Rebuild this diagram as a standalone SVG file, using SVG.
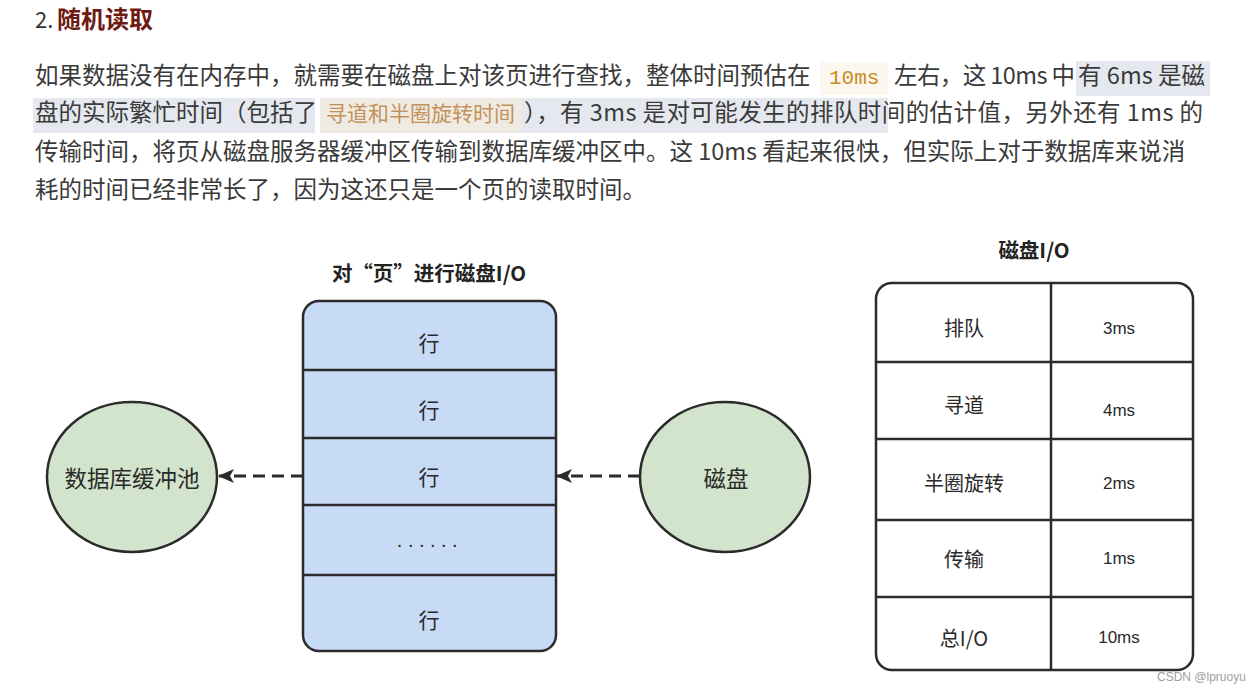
<svg xmlns="http://www.w3.org/2000/svg" width="1259" height="692" viewBox="0 0 1259 692">
<style>
.p{font-family:"Noto Sans CJK SC","Noto Sans",sans-serif;font-size:23.5px;fill:#3a3a3a}
.hl{fill:#e5e8ee}
.cn{font-family:"Noto Sans CJK SC","Noto Sans",sans-serif;fill:#2a2a2a}
.lbl{font-size:21px;text-anchor:middle;dominant-baseline:central}
.num{font-family:"Liberation Sans",Arial,sans-serif;font-size:17px;fill:#2a2a2a;text-anchor:middle;dominant-baseline:central}
.ttl{font-family:"Noto Sans CJK SC","Noto Sans",sans-serif;font-size:20.5px;font-weight:bold;fill:#222;text-anchor:middle}
.edge{stroke:#2b2b2b;stroke-width:3;stroke-dasharray:12 7;fill:none}
.ln{stroke:#2b2b2b;stroke-width:2.5}
</style>
<defs>
<marker id="ah" viewBox="0 0 16 14" refX="15" refY="7" markerWidth="16" markerHeight="14" markerUnits="userSpaceOnUse" orient="auto">
<path d="M0,0 L16,7 L0,14 L4,7 Z" fill="#2b2b2b"/>
</marker>
</defs>
<rect width="1259" height="692" fill="#ffffff"/>

<g id="heading">
<text x="35" y="28" font-family="Noto Sans CJK SC,sans-serif" font-size="22" fill="#333">2.</text>
<text x="57" y="28" font-family="Noto Sans CJK SC,sans-serif" font-size="24" font-weight="bold" fill="#6e1a12">随机读取</text>
</g>

<g id="paragraph">
<rect x="820" y="62" width="68" height="33" fill="#fbf7ee"/>
<rect class="hl" x="1076" y="61" width="134" height="35"/>
<rect class="hl" x="33" y="98" width="282" height="35"/>
<rect x="320" y="98" width="202" height="35" fill="#efebe3"/>
<rect class="hl" x="522" y="98" width="366" height="35"/>
<text class="p" x="35" y="84">如果数据没有在内存中，就需要在磁盘上对该页进行查找，整体时间预估在</text>
<text x="829" y="84" font-family="Liberation Mono,DejaVu Sans Mono,monospace" font-size="21" fill="#c98a1e">10ms</text>
<text class="p" x="894" y="84" textLength="181" lengthAdjust="spacing">左右，这 10ms 中</text>
<text class="p" x="1078" y="84" textLength="127" lengthAdjust="spacing">有 6ms 是磁</text>
<text class="p" x="35" y="121">盘的实际繁忙时间（包括了</text>
<text class="p" x="326" y="121" style="fill:#c4915a;font-size:21px">寻道和半圈旋转时间</text>
<text class="p" x="524" y="121" textLength="679" lengthAdjust="spacing">），有 3ms 是对可能发生的排队时间的估计值，另外还有 1ms 的</text>
<text class="p" x="35" y="160">传输时间，将页从磁盘服务器缓冲区传输到数据库缓冲区中。这 10ms 看起来很快，但实际上对于数据库来说消</text>
<text class="p" x="35" y="198">耗的时间已经非常长了，因为这还只是一个页的读取时间。</text>
</g>

<g id="connectors">
<line class="edge" x1="303" y1="476" x2="219" y2="476" marker-end="url(#ah)"/>
<line class="edge" x1="640" y1="476" x2="557" y2="476" marker-end="url(#ah)"/>
</g>

<g id="page">
<text class="ttl" x="429" y="281">对“页”进行磁盘I/O</text>
<rect x="303" y="301" width="253" height="350" rx="16" fill="#c7dbf6" stroke="#2b2b2b" stroke-width="2.5"/>
<line class="ln" x1="303" y1="370" x2="556" y2="370"/>
<line class="ln" x1="303" y1="438" x2="556" y2="438"/>
<line class="ln" x1="303" y1="505" x2="556" y2="505"/>
<line class="ln" x1="303" y1="575" x2="556" y2="575"/>
<text class="cn lbl" x="429" y="342">行</text>
<text class="cn lbl" x="429" y="409">行</text>
<text class="cn lbl" x="429" y="476">行</text>
<text x="430" y="547" font-family="Liberation Sans,Arial,sans-serif" font-size="20" fill="#2a2a2a" text-anchor="middle" letter-spacing="5.5">......</text>
<text class="cn lbl" x="429" y="619">行</text>
</g>

<g id="buffer-pool">
<ellipse cx="132" cy="477" rx="85" ry="75" fill="#d2e4cb" stroke="#2b2b2b" stroke-width="2.5"/>
<text class="cn lbl" x="132" y="477" style="font-size:22.5px">数据库缓冲池</text>
</g>

<g id="disk">
<ellipse cx="725" cy="477" rx="85" ry="75" fill="#d2e4cb" stroke="#2b2b2b" stroke-width="2.5"/>
<text class="cn lbl" x="726" y="477" style="font-size:22.5px">磁盘</text>
</g>

<g id="io-table">
<text class="ttl" x="1034" y="258">磁盘I/O</text>
<rect x="876" y="283" width="317" height="387" rx="16" fill="#ffffff" stroke="#2b2b2b" stroke-width="2.5"/>
<line class="ln" x1="1051" y1="283" x2="1051" y2="670"/>
<line class="ln" x1="876" y1="362" x2="1193" y2="362"/>
<line class="ln" x1="876" y1="439" x2="1193" y2="439"/>
<line class="ln" x1="876" y1="520" x2="1193" y2="520"/>
<line class="ln" x1="876" y1="597" x2="1193" y2="597"/>
<text class="cn lbl" x="964" y="327" style="font-size:20px">排队</text>
<text class="num" x="1119" y="328">3ms</text>
<text class="cn lbl" x="964" y="404" style="font-size:20px">寻道</text>
<text class="num" x="1119" y="410">4ms</text>
<text class="cn lbl" x="964" y="482" style="font-size:20px">半圈旋转</text>
<text class="num" x="1119" y="483">2ms</text>
<text class="cn lbl" x="964" y="558" style="font-size:20px">传输</text>
<text class="num" x="1119" y="558">1ms</text>
<text class="cn lbl" x="964" y="637" style="font-size:20px">总I/O</text>
<text class="num" x="1119" y="637">10ms</text>
</g>

<text x="1157" y="681" font-family="Liberation Sans,Arial,sans-serif" font-size="12" fill="#a0a0a0">CSDN @lpruoyu</text>
</svg>
